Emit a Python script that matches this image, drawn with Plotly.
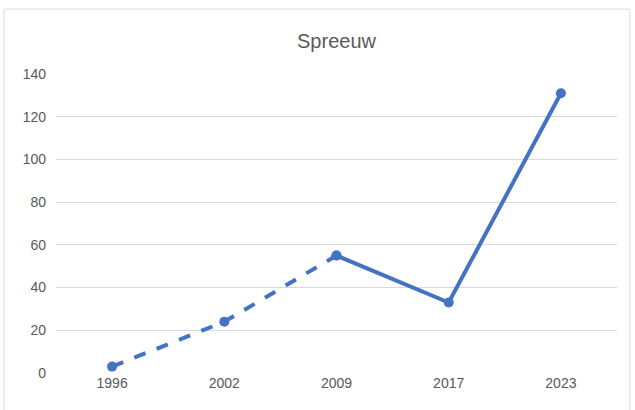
import plotly.graph_objects as go

years = ["1996", "2002", "2009", "2017", "2023"]
values = [3, 24, 55, 33, 131]
y_ticks = [0, 20, 40, 60, 80, 100, 120, 140]
title = "Spreeuw"

color = "#4472C4"
font_family = "Liberation Sans, Arial, sans-serif"

fig = go.Figure()
fig.add_trace(go.Scatter(
    x=years[:3], y=values[:3], mode="lines+markers",
    line=dict(color=color, width=4, dash="dash"),
    marker=dict(color=color, size=10),
    showlegend=False, hoverinfo="x+y",
))
fig.add_trace(go.Scatter(
    x=years[2:], y=values[2:], mode="lines+markers",
    line=dict(color=color, width=4),
    marker=dict(color=color, size=10),
    showlegend=False, hoverinfo="x+y",
))

fig.update_layout(
    width=635, height=410,
    margin=dict(l=56, r=18, t=74, b=37),
    paper_bgcolor="white", plot_bgcolor="white",
    title=dict(text=title, x=0.5, xref="paper", y=0.9, yref="container",
               xanchor="center", yanchor="middle",
               font=dict(family=font_family, size=20, color="#595959")),
    font=dict(family=font_family, size=14, color="#595959"),
    xaxis=dict(type="category", categoryorder="array", categoryarray=years,
               range=[-0.5, 4.5], showgrid=False, showline=False,
               zeroline=False, ticks="", tickfont=dict(size=14, color="#595959")),
    yaxis=dict(range=[0, 140], tickvals=y_ticks, showgrid=True,
               gridcolor="#d9d9d9", gridwidth=1, zeroline=False,
               showline=False, ticks="", ticklabelstandoff=9,
               tickfont=dict(size=14, color="#595959")),
    shapes=[dict(type="rect", xref="paper", yref="paper",
                 x0=-0.0927, x1=1.023, y0=-0.14, y1=1.217,
                 line=dict(color="#d9d9d9", width=1), fillcolor="rgba(0,0,0,0)",
                 layer="below")],
)

fig.write_html("out.html", config={"displayModeBar": False},
               post_script="document.body.style.margin='0';document.body.style.overflow='hidden';")
